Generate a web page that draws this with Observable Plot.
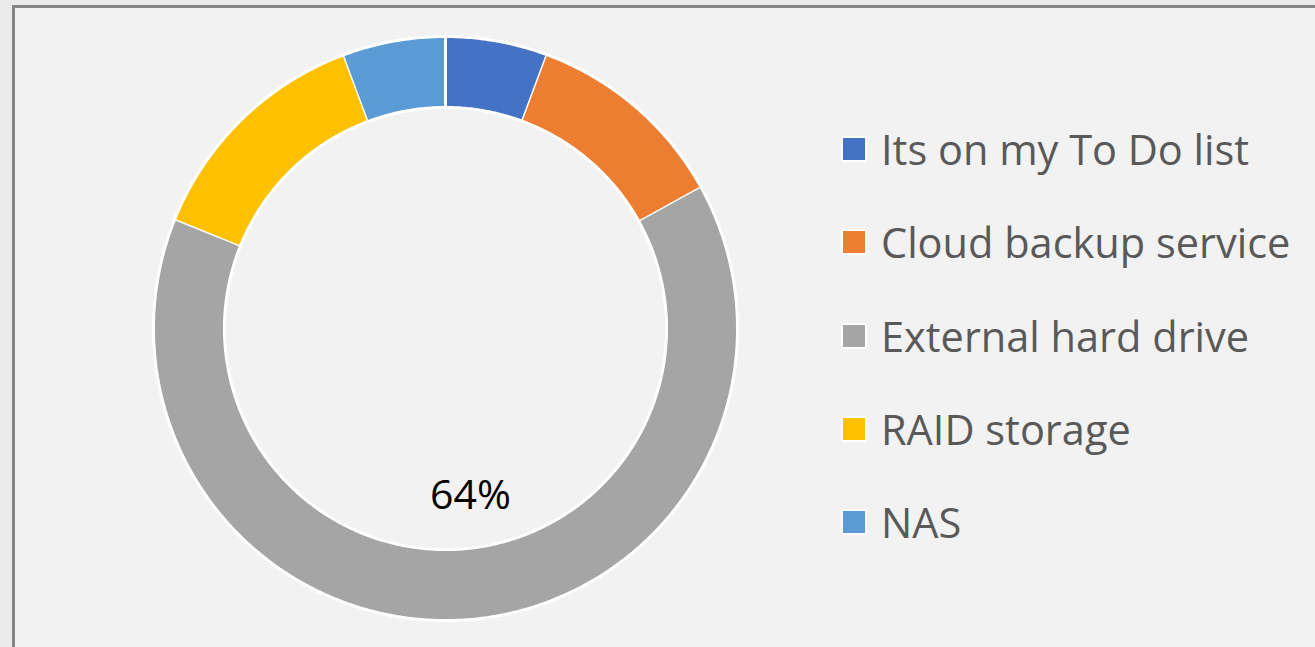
<!DOCTYPE html>
<html>
<head>
<meta charset="utf-8">
<script src="https://cdn.jsdelivr.net/npm/d3@7"></script>
<script src="https://cdn.jsdelivr.net/npm/@observablehq/plot@0.6"></script>
<style>
  html, body { margin: 0; padding: 0; background: #ebebeb; }
  #frame { position: absolute; left: 12px; top: 5px; width: 1320px; height: 660px;
           background: #f2f2f2; border-left: 3px solid #858585; border-top: 3px solid #858585; }
  #chart { position: absolute; left: 0; top: 0; }
  #legend { position: absolute; left: 0; top: 0; }
  .item { position: absolute; left: 841px; display: flex; align-items: center;
          font-family: "Open Sans", sans-serif; font-size: 41.5px; color: #595959; white-space: nowrap; }
  .sw { width: 22px; height: 22px; border: 2.5px solid #ffffff; margin-right: 14px; }
</style>
</head>
<body>
<div id="frame"></div>
<div id="chart"></div>
<div id="legend"></div>
<script>
const categories = ["Its on my To Do list", "Cloud backup service", "External hard drive", "RAID storage", "NAS"];
const values = [3, 6, 34, 7, 3];
const colors = ["#4472c4", "#ed7d31", "#a5a5a5", "#ffc000", "#5b9bd5"];
const labeled = ["External hard drive"];

const inner = 0.757;
const total = d3.sum(values);
const pie = d3.pie().sort(null).value(d => d.value)(categories.map((c, i) => ({category: c, value: values[i]})));

const pts = [];
const labels = [];
for (const a of pie) {
  const n = Math.max(8, Math.ceil((a.endAngle - a.startAngle) / (Math.PI / 360)));
  for (let k = 0; k <= n; k++) {
    const t = a.startAngle + (a.endAngle - a.startAngle) * k / n;
    pts.push({category: a.data.category, x: Math.sin(t), y: Math.cos(t)});
  }
  for (let k = n; k >= 0; k--) {
    const t = a.startAngle + (a.endAngle - a.startAngle) * k / n;
    pts.push({category: a.data.category, x: inner * Math.sin(t), y: inner * Math.cos(t)});
  }
  if (labeled.includes(a.data.category)) {
    const m = (a.startAngle + a.endAngle) / 2;
    labels.push({x: 0.575 * Math.sin(m), y: 0.575 * Math.cos(m),
                 text: Math.round(100 * a.data.value / total) + "%"});
  }
}

const chart = Plot.plot({
  width: 1315, height: 647,
  marginLeft: 153, marginRight: 578, marginTop: 36, marginBottom: 27,
  x: {domain: [-1, 1], axis: null},
  y: {domain: [-1, 1], axis: null},
  color: {domain: categories, range: colors},
  style: {background: "transparent", overflow: "visible"},
  marks: [
    Plot.line(pts, {x: "x", y: "y", z: "category", fill: "category", stroke: "#ffffff", strokeWidth: 3, strokeLinejoin: "miter", curve: "linear"}),
    Plot.text(labels, {x: "x", y: "y", text: "text", dx: 15, fontSize: 41, fill: "#000000", fontFamily: "Open Sans"})
  ]
});
document.getElementById("chart").appendChild(chart);

const legend = document.getElementById("legend");
categories.forEach((c, i) => {
  const row = document.createElement("div");
  row.className = "item";
  row.style.top = (149 + i * 93.3 - 30) + "px";
  row.style.height = "60px";
  const sw = document.createElement("div");
  sw.className = "sw";
  sw.style.background = colors[i];
  const tx = document.createElement("span");
  tx.textContent = c;
  row.appendChild(sw);
  row.appendChild(tx);
  legend.appendChild(row);
});
</script>
</body>
</html>
